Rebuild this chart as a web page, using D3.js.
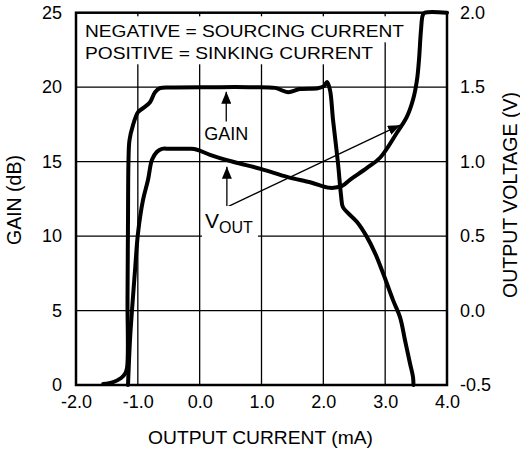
<!DOCTYPE html>
<html>
<head>
<meta charset="utf-8">
<script src="https://cdn.jsdelivr.net/npm/d3@7"></script>
<style>
  body { margin: 0; background: #fff; }
  svg { display: block; font-family: "Liberation Sans", Arial, Helvetica, sans-serif; }
</style>
</head>
<body>
<div id="chart"></div>
<script>
// axis ticks
const xTicks = [-2, -1, 0, 1, 2, 3, 4];
const gainTicks = [0, 5, 10, 15, 20, 25];
const voutTicks = [-0.5, 0, 0.5, 1.0, 1.5, 2.0];

// GAIN (dB) vs output current (mA)
const gainX = [-1.56, -1.40, -1.27, -1.21, -1.175, -1.167, -1.159, -1.151, -1.135, -1.078, -0.997, -0.916,
  -0.803, -0.722, -0.641, -0.48, 0.2, 0.8, 1.22, 1.43, 1.62, 1.91, 2.01, 2.06, 2.108, 2.157, 2.237, 2.286,
  2.316, 2.40, 2.545, 2.706, 2.836, 2.965, 3.127, 3.24, 3.32, 3.40, 3.45, 3.458];
const gainDb = [0.07, 0.2, 0.47, 0.74, 1.14, 5.7, 11.07, 15.1, 16.44, 17.45, 18.32, 18.59,
  18.99, 19.66, 19.93, 19.98, 20.0, 20.0, 19.95, 19.66, 19.87, 19.93, 20.07, 20.34, 19.8, 17.79, 14.9, 12.75,
  11.95, 11.54, 10.94, 9.93, 8.86, 7.52, 5.7, 4.56, 3.02, 1.48, 0.54, 0];

// VOUT (V) vs output current (mA)
const voutX = [-1.159, -1.127, -1.094, -1.045, -0.997, -0.916, -0.835, -0.771, -0.69, -0.609, -0.48, -0.156,
  -0.043, 0.167, 0.539, 1.0, 1.413, 1.8, 2.108, 2.302, 2.43, 2.706, 2.917, 3.19, 3.35, 3.45, 3.515, 3.547,
  3.58, 3.61, 3.645, 4.0];
const voutV = [-0.5, -0.2, 0.004, 0.273, 0.52, 0.743, 0.878, 1.012, 1.066, 1.086, 1.086, 1.086,
  1.08, 1.046, 0.999, 0.95, 0.898, 0.86, 0.824, 0.837, 0.878, 0.958, 1.026, 1.194, 1.30, 1.415, 1.55, 1.684,
  1.886, 1.986, 2.0, 2.0];

const width = 520, height = 450;
const plot = { left: 76, right: 447, top: 12.7, bottom: 385 };

const svg = d3.select("#chart").append("svg")
  .attr("width", width)
  .attr("height", height);

const x = d3.scaleLinear().domain([-2, 4]).range([plot.left, plot.right]);
const yGain = d3.scaleLinear().domain([0, 25]).range([plot.bottom, plot.top]);
const yVout = d3.scaleLinear().domain([-0.5, 2]).range([plot.bottom, plot.top]);

// grid
const grid = svg.append("g").attr("stroke", "#000").attr("stroke-width", 1.3);
grid.selectAll(".vx").data(xTicks.slice(1, -1)).enter().append("line")
  .attr("x1", d => x(d)).attr("x2", d => x(d))
  .attr("y1", plot.top).attr("y2", plot.bottom);
grid.selectAll(".hy").data(gainTicks.slice(1, -1)).enter().append("line")
  .attr("x1", plot.left).attr("x2", plot.right)
  .attr("y1", d => yGain(d)).attr("y2", d => yGain(d));

// axes (labels only)
const fmt = d => d.toFixed(1);
const xAxis = svg.append("g")
  .attr("transform", `translate(0,${plot.bottom})`)
  .call(d3.axisBottom(x).tickValues(xTicks).tickFormat(fmt).tickSize(0).tickPadding(10));
const lAxis = svg.append("g")
  .attr("transform", `translate(${plot.left},0)`)
  .call(d3.axisLeft(yGain).tickValues(gainTicks).tickFormat(d => d).tickSize(0).tickPadding(14));
const rAxis = svg.append("g")
  .attr("transform", `translate(${plot.right},0)`)
  .call(d3.axisRight(yVout).tickValues(voutTicks).tickFormat(fmt).tickSize(0).tickPadding(13));
[xAxis, lAxis, rAxis].forEach(a => {
  a.select(".domain").remove();
  a.selectAll("text").attr("font-size", 18).attr("fill", "#000")
    .attr("font-family", "'Liberation Sans', Arial, sans-serif");
});

// annotation box at top left
const note = svg.append("g");
const noteLines = [
  { t: "NEGATIVE = SOURCING CURRENT", y: 37.3, len: 319 },
  { t: "POSITIVE = SINKING CURRENT", y: 59.3, len: 288 }
];
noteLines.forEach(l => {
  const txt = note.append("text")
    .attr("x", 85).attr("y", l.y)
    .attr("font-size", 17)
    .attr("textLength", l.len)
    .attr("lengthAdjust", "spacingAndGlyphs")
    .text(l.t);
  const b = txt.node().getBBox();
  note.insert("rect", "text")
    .attr("x", b.x - 4).attr("y", l.y - 21)
    .attr("width", b.width + 8).attr("height", 26)
    .attr("fill", "#fff");
});

// curves
const line = d3.line().curve(d3.curveCatmullRom.alpha(0.5));
const gainPts = gainX.map((v, i) => [x(v), yGain(gainDb[i])]);
const voutPts = voutX.map((v, i) => [x(v), yVout(voutV[i])]);
svg.append("path").attr("d", line(gainPts))
  .attr("fill", "none").attr("stroke", "#000").attr("stroke-width", 4)
  .attr("stroke-linejoin", "round").attr("stroke-linecap", "round");
svg.append("path").attr("d", line(voutPts))
  .attr("fill", "none").attr("stroke", "#000").attr("stroke-width", 4)
  .attr("stroke-linejoin", "round").attr("stroke-linecap", "round");

// arrows
svg.append("defs").append("marker")
  .attr("id", "head")
  .attr("markerUnits", "userSpaceOnUse")
  .attr("viewBox", "0 0 12 10")
  .attr("refX", 12).attr("refY", 5)
  .attr("markerWidth", 12).attr("markerHeight", 10)
  .attr("orient", "auto")
  .append("path").attr("d", "M0,0L12,5L0,10Z").attr("fill", "#000");

const arrow = (x1, y1, x2, y2) => svg.append("line")
  .attr("x1", x1).attr("y1", y1).attr("x2", x2).attr("y2", y2)
  .attr("stroke", "#000").attr("stroke-width", 1.3)
  .attr("marker-end", "url(#head)");

// GAIN label + arrow
arrow(x(0.43), yGain(17.7), x(0.43), yGain(19.7));
svg.append("text").attr("x", x(0.43)).attr("y", 140)
  .attr("text-anchor", "middle").attr("font-size", 18).text("GAIN");

// VOUT label + arrows
const corner = [x(0.44), yGain(11.95)];
arrow(corner[0], corner[1], corner[0], yGain(14.65));
arrow(corner[0], corner[1], x(3.24), yGain(17.45));
svg.append("rect").attr("x", 202).attr("y", 206).attr("width", 56).attr("height", 33).attr("fill", "#fff");
const vl = svg.append("text").attr("x", 205).attr("y", 227.5).attr("font-size", 21);
vl.append("tspan").text("V");
vl.append("tspan").attr("dy", 5.5).attr("font-size", 16).text("OUT");

// frame
svg.append("rect")
  .attr("x", plot.left).attr("y", plot.top)
  .attr("width", plot.right - plot.left).attr("height", plot.bottom - plot.top)
  .attr("fill", "none").attr("stroke", "#000").attr("stroke-width", 2.5);

// axis titles
svg.append("text")
  .attr("x", 260.5).attr("y", 444)
  .attr("text-anchor", "middle").attr("font-size", 18)
  .attr("textLength", 225).attr("lengthAdjust", "spacingAndGlyphs")
  .text("OUTPUT CURRENT (mA)");
svg.append("text")
  .attr("transform", "translate(21,200) rotate(-90)")
  .attr("text-anchor", "middle").attr("font-size", 19.5)
  .text("GAIN (dB)");
svg.append("text")
  .attr("transform", "translate(517,195) rotate(-90)")
  .attr("text-anchor", "middle").attr("font-size", 19.5)
  .text("OUTPUT VOLTAGE (V)");
</script>
</body>
</html>
